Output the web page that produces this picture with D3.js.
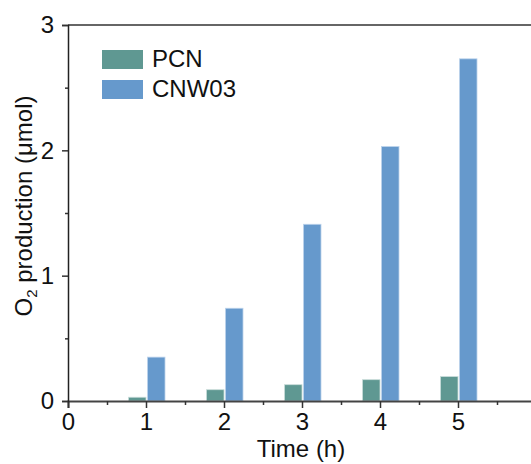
<!DOCTYPE html>
<html>
<head>
<meta charset="utf-8">
<script src="https://cdn.jsdelivr.net/npm/d3@7"></script>
<style>
  body { margin: 0; background: #fff; }
  svg { display: block; font-family: "Liberation Sans", Arial, sans-serif; }
</style>
</head>
<body>
<div id="chart"></div>
<script>
// data
var hours = [1, 2, 3, 4, 5];
var pcn = [0.03, 0.09, 0.13, 0.17, 0.195];
var cnw03 = [0.35, 0.74, 1.41, 2.03, 2.73];
var seriesNames = ["PCN", "CNW03"];
var xTicks = [0, 1, 2, 3, 4, 5];
var yTicks = [0, 1, 2, 3];

var width = 531, height = 464;
var margin = {left: 68, top: 25, bottom: 63};
var colors = {PCN: "#5f9892", CNW03: "#6699cc"};
var fontSize = 24;

var svg = d3.select("#chart").append("svg")
  .attr("width", width)
  .attr("height", height);

// x axis runs past the right edge (domain to 6, cropped like the original)
var x = d3.scaleLinear().domain([0, 6]).range([margin.left, margin.left + 6 * 78]);
var y = d3.scaleLinear().domain([0, 3]).range([height - margin.bottom, margin.top]);

var barW = 17.5;

//bars, pcn sits left of the tick, cnw03 right of it
var g = svg.append("g");
g.selectAll("rect.pcn")
  .data(hours)
  .enter().append("rect")
  .attr("class", "pcn")
  .attr("x", function (d) { return x(d) - barW; })
  .attr("width", barW)
  .attr("y", function (d, i) { return y(pcn[i]); })
  .attr("height", function (d, i) { return y(0) - y(pcn[i]); })
  .attr("fill", colors.PCN)
  .attr("stroke", "#c9dcda")
  .attr("stroke-width", 0.8);

g.selectAll("rect.cnw")
  .data(hours)
  .enter().append("rect")
  .attr("class", "cnw")
  .attr("x", function (d) { return x(d) + 1.5; })
  .attr("width", barW)
  .attr("y", function (d, i) { return y(cnw03[i]); })
  .attr("height", function (d, i) { return y(0) - y(cnw03[i]); })
  .attr("fill", colors.CNW03)
  .attr("stroke", "#bcd3ec")
  .attr("stroke-width", 0.8);

// top frame line
svg.append("line")
  .attr("x1", x(0)).attr("x2", width)
  .attr("y1", y(3)).attr("y2", y(3))
  .attr("stroke", "#666")
  .attr("stroke-width", 2);

// x axis with minor ticks
var xAxis = svg.append("g")
  .attr("transform", "translate(0," + y(0) + ")")
  .call(d3.axisBottom(x).tickValues(xTicks).tickSize(7).tickPadding(5).tickFormat(d3.format("d")));
var xMinor = d3.range(0.5, 6, 1);
svg.append("g")
  .attr("transform", "translate(0," + y(0) + ")")
  .call(d3.axisBottom(x).tickValues(xMinor).tickSize(4).tickFormat(""))
  .select(".domain").remove();

// y axis with minor ticks
var yAxis = svg.append("g")
  .attr("transform", "translate(" + x(0) + ",0)")
  .call(d3.axisLeft(y).tickValues(yTicks).tickSize(6).tickPadding(8).tickFormat(d3.format("d")));
svg.append("g")
  .attr("transform", "translate(" + x(0) + ",0)")
  .call(d3.axisLeft(y).tickValues([0.5, 1.5, 2.5]).tickSize(3).tickFormat(""))
  .select(".domain").remove();

svg.selectAll(".tick text")
  .attr("font-size", fontSize)
  .attr("font-family", "Liberation Sans, Arial, sans-serif")
  .attr("fill", "#111");
svg.selectAll(".tick line").attr("stroke", "#333").attr("stroke-width", 1.5);
xAxis.select(".domain").attr("stroke", "#444").attr("stroke-width", 2);
yAxis.select(".domain").attr("stroke", "#222").attr("stroke-width", 1.5);

// axis titles
svg.append("text")
  .attr("x", 301)
  .attr("y", 457)
  .attr("text-anchor", "middle")
  .attr("font-size", fontSize)
  .attr("fill", "#111")
  .text("Time (h)");

var yTitle = svg.append("text")
  .attr("transform", "translate(32,206) rotate(-90)")
  .attr("text-anchor", "middle")
  .attr("font-size", fontSize)
  .attr("fill", "#111");
yTitle.append("tspan").text("O");
yTitle.append("tspan").attr("font-size", 15).attr("dy", 5).text("2");
yTitle.append("tspan").attr("dy", -5).text(" production (\u03bcmol)");

// legend
var legend = svg.append("g").attr("transform", "translate(102,50)");
seriesNames.forEach(function (name, i) {
  legend.append("rect")
    .attr("x", 0)
    .attr("y", i * 30)
    .attr("width", 41)
    .attr("height", 19)
    .attr("fill", colors[name]);
  legend.append("text")
    .attr("x", 50)
    .attr("y", i * 30 + 17)
    .attr("font-size", fontSize)
    .attr("fill", "#111")
    .text(name);
});
</script>
</body>
</html>
